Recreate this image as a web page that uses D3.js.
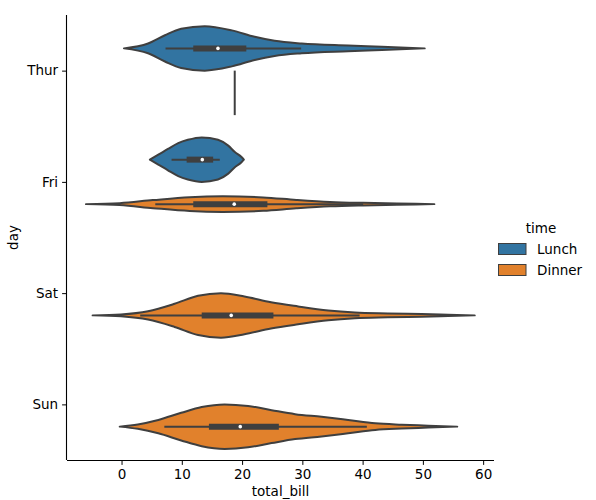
<!DOCTYPE html>
<html>
<head>
<meta charset="utf-8">
<script src="https://cdn.jsdelivr.net/npm/d3@7"></script>
<style>
  html, body { margin: 0; padding: 0; background: #fff; }
  svg { display: block; font-family: "DejaVu Sans", sans-serif; }
</style>
</head>
<body>
<svg id="chart" width="596" height="500"></svg>
<script>
// ---------- data ----------
const days = ["Thur", "Fri", "Sat", "Sun"];
const times = ["Lunch", "Dinner"];
const timeColors = ["#3274a1", "#e1812c"];
const xTicks = [0, 10, 20, 30, 40, 50, 60];

// violin profiles: total_bill grid and relative density (1 = widest)
const thurLunchBill    = [0.4, 4.4, 7.2, 9.9, 13.8, 18.3, 22.1, 25.4, 29.9, 37.6, 43.2, 50.3];
const thurLunchDensity = [0, 0.22, 0.59, 0.88, 1.0, 0.81, 0.52, 0.34, 0.22, 0.13, 0.075, 0];

const friLunchBill     = [4.7, 6.1, 7.7, 9.4, 11.0, 13.3, 16.0, 17.7, 18.8, 19.9, 20.3];
const friLunchDensity  = [0, 0.22, 0.48, 0.74, 0.89, 1.0, 0.89, 0.63, 0.34, 0.12, 0];

const friDinnerBill    = [-5.9, -0.3, 5.2, 11.3, 16.8, 23.5, 29.0, 34.6, 40.1, 45.7, 51.9];
const friDinnerDensity = [0, 0.044, 0.18, 0.31, 0.35, 0.30, 0.19, 0.10, 0.057, 0.03, 0];

const satDinnerBill    = [-4.8, -0.1, 4.4, 8.8, 12.7, 16.5, 20.4, 24.8, 29.3, 34.3, 38.7, 44.2, 49.8, 54.2, 58.6];
const satDinnerDensity = [0, 0.044, 0.19, 0.52, 0.88, 1.0, 0.85, 0.59, 0.40, 0.22, 0.13, 0.088, 0.057, 0.03, 0];

const sunDinnerBill    = [-0.3, 2.7, 6.1, 9.9, 13.3, 17.1, 21.0, 24.9, 28.8, 33.2, 37.6, 42.1, 46.5, 50.9, 55.7];
const sunDinnerDensity = [0, 0.10, 0.30, 0.62, 0.88, 1.0, 0.93, 0.74, 0.56, 0.44, 0.30, 0.15, 0.088, 0.044, 0];

// inner box stats: [whiskerLow, q1, median, q3, whiskerHigh]
const thurLunchBox = [7.3, 11.9, 16.0, 20.7, 29.8];
const friLunchBox  = [8.3, 10.8, 13.4, 15.2, 16.3];
const friDinnerBox = [5.6, 11.9, 18.7, 24.2, 40.1];
const satDinnerBox = [3.1, 13.3, 18.2, 25.2, 39.5];
const sunDinnerBox = [7.1, 14.5, 19.7, 26.1, 40.7];

// single observation (Thur dinner)
const thurDinnerSingle = [18.78];

const violins = [
  { day: "Thur", time: "Lunch",  bill: thurLunchBill, dens: thurLunchDensity, box: thurLunchBox },
  { day: "Fri",  time: "Lunch",  bill: friLunchBill,  dens: friLunchDensity,  box: friLunchBox },
  { day: "Fri",  time: "Dinner", bill: friDinnerBill, dens: friDinnerDensity, box: friDinnerBox },
  { day: "Sat",  time: "Dinner", bill: satDinnerBill, dens: satDinnerDensity, box: satDinnerBox },
  { day: "Sun",  time: "Dinner", bill: sunDinnerBill, dens: sunDinnerDensity, box: sunDinnerBox }
];

// ---------- layout ----------
const margin = { left: 67, right: 494, top: 15, bottom: 460 };
const gray = "#3f3f3f";
const svg = d3.select("#chart");

const x = d3.scaleLinear().domain([-9.05, 61.8]).range([margin.left, margin.right]);
const y = d3.scalePoint().domain(days).range([margin.top, margin.bottom]).padding(0.5);
const step = y.step();
const hue = d3.scaleBand().domain(times).range([-0.4 * step, 0.4 * step]);
const color = d3.scaleOrdinal().domain(times).range(timeColors);
const w = d3.scaleLinear().domain([0, 1]).range([0, hue.bandwidth() / 2]);

const center = (day, time) => y(day) + hue(time) + hue.bandwidth() / 2;

const plot = svg.append("g");

violins.forEach(v => {
  const cy = center(v.day, v.time);
  const pts = v.bill.map((b, i) => ({ b, d: v.dens[i] }));
  const area = d3.area()
    .x(p => x(p.b))
    .y0(p => cy - w(p.d))
    .y1(p => cy + w(p.d))
    .curve(d3.curveMonotoneX);
  plot.append("path")
    .attr("d", area(pts))
    .attr("fill", color(v.time))
    .attr("stroke", gray)
    .attr("stroke-width", 2)
    .attr("stroke-linejoin", "round");
  // whisker
  plot.append("line")
    .attr("x1", x(v.box[0])).attr("x2", x(v.box[4]))
    .attr("y1", cy).attr("y2", cy)
    .attr("stroke", gray).attr("stroke-width", 2);
  // box
  plot.append("line")
    .attr("x1", x(v.box[1])).attr("x2", x(v.box[3]))
    .attr("y1", cy).attr("y2", cy)
    .attr("stroke", gray).attr("stroke-width", 6);
  // median
  plot.append("circle")
    .attr("cx", x(v.box[2])).attr("cy", cy).attr("r", 1.8)
    .attr("fill", "#fff");
});

// single observation line
thurDinnerSingle.forEach(val => {
  const cy = center("Thur", "Dinner");
  plot.append("line")
    .attr("x1", x(val)).attr("x2", x(val))
    .attr("y1", cy - hue.bandwidth() / 2).attr("y2", cy + hue.bandwidth() / 2)
    .attr("stroke", gray).attr("stroke-width", 2);
});

// ---------- axes ----------
const xAxis = svg.append("g")
  .attr("transform", `translate(0,${margin.bottom})`)
  .call(d3.axisBottom(x).tickValues(xTicks).tickSize(4.9).tickPadding(5).tickSizeOuter(0));
const yAxis = svg.append("g")
  .attr("transform", `translate(${margin.left},0)`)
  .call(d3.axisLeft(y).tickSize(4.9).tickPadding(4).tickSizeOuter(0));

[xAxis, yAxis].forEach(a => {
  a.selectAll("text").attr("font-size", 13.5).attr("fill", "#000")
    .attr("font-family", "DejaVu Sans, sans-serif");
  a.selectAll("line").attr("stroke", "#000").attr("stroke-width", 1);
  a.select(".domain").attr("stroke", "#000").attr("stroke-width", 1.1);
});
// extend spines to the full axes box
xAxis.select(".domain").attr("d", `M${margin.left},0.5H${margin.right}`);
yAxis.select(".domain").attr("d", `M-0.5,${margin.top}V${margin.bottom}`);

svg.append("text")
  .attr("x", (margin.left + margin.right) / 2).attr("y", 496)
  .attr("text-anchor", "middle").attr("font-size", 13.5)
  .text("total_bill");
svg.append("text")
  .attr("transform", `translate(18,${(margin.top + margin.bottom) / 2}) rotate(-90)`)
  .attr("text-anchor", "middle").attr("font-size", 13.5)
  .text("day");

// ---------- legend ----------
const legend = svg.append("g").attr("transform", "translate(498,0)");
legend.append("text").attr("x", 43).attr("y", 233)
  .attr("text-anchor", "middle").attr("font-size", 13.5).text("time");
times.forEach((t, i) => {
  const ly = 243 + i * 21;
  legend.append("rect").attr("x", 0.5).attr("y", ly + 0.5).attr("width", 27.5).attr("height", 11)
    .attr("fill", color(t)).attr("stroke", gray).attr("stroke-width", 1);
  legend.append("text").attr("x", 39).attr("y", ly + 11)
    .attr("font-size", 13.5).text(t);
});
</script>
</body>
</html>
